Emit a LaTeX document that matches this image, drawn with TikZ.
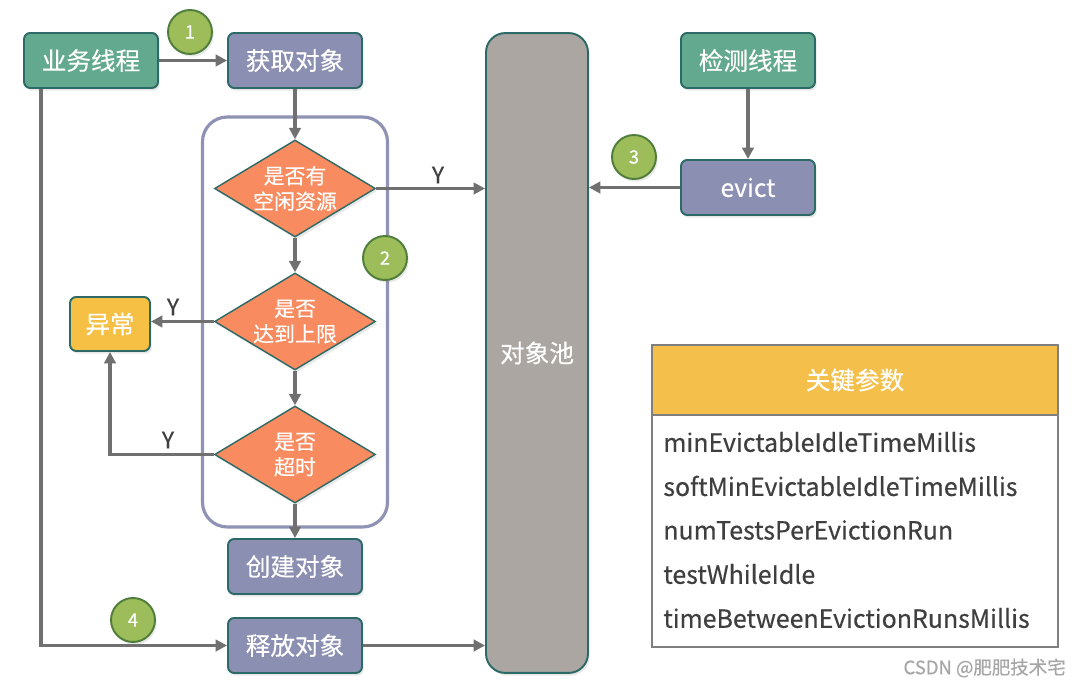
\documentclass[tikz,border=0pt]{standalone}
\usepackage{fontspec}
\setmainfont{Noto Sans CJK SC}[FakeBold=0.35]
\usetikzlibrary{arrows.meta,shapes.geometric,shadows}
\definecolor{tealF}{HTML}{63A98F}
\definecolor{tealD}{HTML}{2B6A66}
\definecolor{lavF}{HTML}{8B8FB1}
\definecolor{oranF}{HTML}{F88B5F}
\definecolor{yelF}{HTML}{F5C043}
\definecolor{poolF}{HTML}{ACA6A2}
\definecolor{circF}{HTML}{9CBD5A}
\definecolor{circD}{HTML}{4F7D3A}
\definecolor{arrC}{HTML}{707070}
\definecolor{grpC}{HTML}{8F92B5}
\definecolor{tabC}{HTML}{7F7F7F}
\definecolor{headF}{HTML}{F4C04B}
\definecolor{txtC}{HTML}{3F3F3F}
\begin{document}
\begin{tikzpicture}[x=0.02cm,y=-0.02cm,
  shadowed/.style={drop shadow={shadow xshift=1pt,shadow yshift=-1.5pt,opacity=0.18}},
  boxbase/.style={draw=tealD,line width=1.1pt,rounded corners=3.5pt,text=white,
    font=\fontsize{14}{16}\selectfont,minimum width=2.68cm,minimum height=1.1cm,inner sep=0pt,shadowed},
  thread/.style={boxbase,fill=tealF},
  action/.style={boxbase,fill=lavF},
  decision/.style={diamond,draw=tealD,line width=0.8pt,fill=oranF,inner sep=0pt,
    minimum width=3.22cm,minimum height=1.94cm,shadowed},
  dtext/.style={text=white,font=\fontsize{11.9}{14.5}\selectfont,align=center,inner sep=0pt},
  num/.style={circle,fill=circF,draw=circD,line width=1.1pt,minimum size=0.88cm,inner sep=0pt,
    text=white,font=\fontsize{10.5}{12}\selectfont,shadowed},
  conn/.style={draw=arrC,line width=1.8pt,-{Triangle[length=6.5pt,width=6.5pt]}},
  ylab/.style={text=txtC,font=\fontsize{13}{15}\selectfont,inner sep=0pt},
  rowtext/.style={text=txtC,font=\fontsize{14.2}{16}\selectfont,anchor=west,inner sep=0pt}
]
\useasboundingbox (0,0) rectangle (1080,688);
\fill[white] (0,0) rectangle (1080,688);

% group frame
\node[draw=grpC,line width=1.8pt,rounded corners=14pt,minimum width=3.7cm,minimum height=8.2cm,inner sep=0pt] (grp) at (295,322) {};

% pool
\node[draw=tealD,line width=1.1pt,fill=poolF,rounded corners=11pt,minimum width=2.04cm,minimum height=12.8cm,
  inner sep=0pt,text=white,font=\fontsize{14}{16}\selectfont,shadowed] (pool) at (537,353) {对象池};

% boxes
\node[thread] (biz) at (91,60.5) {业务线程};
\node[action] (get) at (295,60.5) {获取对象};
\node[action] (create) at (295,566.5) {创建对象};
\node[action] (rel) at (295,645.5) {释放对象};
\node[thread] (det) at (748,60.5) {检测线程};
\node[action] (evict) at (748,187.5) {evict};
\node[boxbase,fill=yelF,minimum width=1.6cm,minimum height=1.08cm] (exc) at (110,324) {异常};

% decisions
\node[decision] (d1) at (295,188.5) {};
\node[dtext] (d1t) at (d1) {是否有\\空闲资源};
\node[decision] (d2) at (295,321.5) {};
\node[dtext] (d2t) at (d2) {是否\\达到上限};
\node[decision] (d3) at (295,454.5) {};
\node[dtext] (d3t) at (d3) {是否\\超时};

% connectors
\draw[conn] (biz.east) -- (get.west);
\draw[conn] (get.south) -- (d1.north);
\draw[conn] (d1.south) -- (d2.north);
\draw[conn] (d2.south) -- (d3.north);
\draw[conn] (d3.south) -- (create.north);
\draw[conn] (d1.east) -- (pool.west |- d1.east);
\draw[conn] (d2.west) -- (exc.east |- d2.west);
\draw[conn] (d3.west) -| (exc.south);
\draw[conn] (biz.south west) ++(18,0) |- (rel.west);
\draw[conn] (rel.east) -- (pool.west |- rel.east);
\draw[conn] (det.south) -- (evict.north);
\draw[conn] (evict.west) -- (pool.east |- evict.west);

% Y labels
\node[ylab] (y1) at (438,175) {Y};
\node[ylab] (y2) at (173,307) {Y};
\node[ylab] (y3) at (168,440) {Y};

% numbers
\node[num] (n1) at (190,32) {1};
\node[num] (n2) at (385,258) {2};
\node[num] (n3) at (634,157) {3};
\node[num] (n4) at (133,620) {4};

% table
\node[draw=tabC,line width=1.3pt,fill=white,minimum width=8.12cm,minimum height=6.04cm,inner sep=0pt] (tab) at (855,496) {};
\node[draw=tabC,line width=1.3pt,fill=headF,minimum width=8.12cm,minimum height=1.4cm,inner sep=0pt,
  text=white,font=\fontsize{14}{16}\selectfont] (head) at (855,380) {关键参数};
\node[rowtext] (r1) at (663,442) {minEvictableIdleTimeMillis};
\node[rowtext] (r2) at (663,486) {softMinEvictableIdleTimeMillis};
\node[rowtext] (r3) at (663,530) {numTestsPerEvictionRun};
\node[rowtext] (r4) at (663,574) {testWhileIdle};
\node[rowtext] (r5) at (663,618) {timeBetweenEvictionRunsMillis};

% watermark
\node[text=black!35,font=\fontsize{10.5}{12}\selectfont,anchor=east,inner sep=0pt] (wm) at (1066,668) {CSDN @肥肥技术宅};
\end{tikzpicture}
\end{document}
